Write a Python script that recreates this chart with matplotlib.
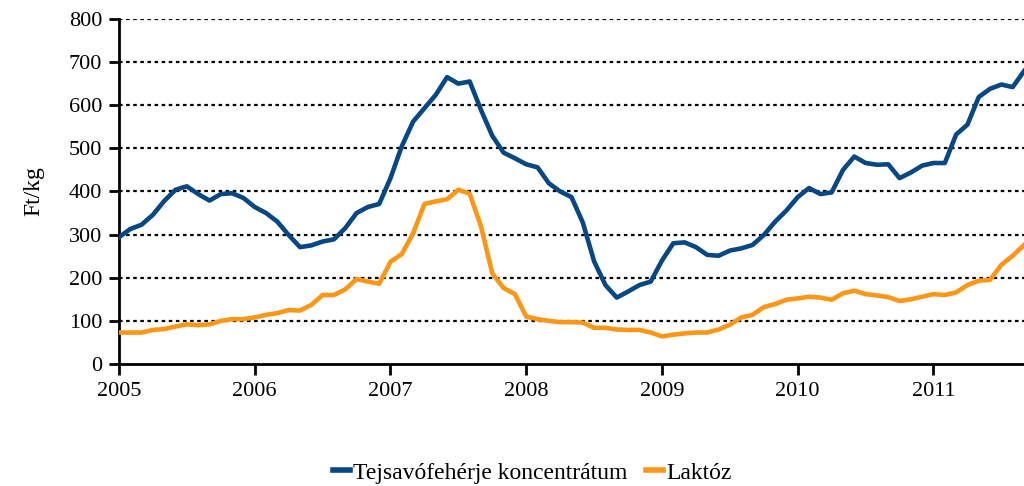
import numpy as np
import matplotlib
matplotlib.use("Agg")
from matplotlib import pyplot as plt

# monthly prices, Jan 2005 - Sep 2011 (Ft/kg)
start_year = 2005
tejsavo = [294, 313, 323, 346, 378, 404, 412, 394, 379, 394, 396, 385,
           364, 350, 330, 299, 271, 275, 284, 289, 315, 350, 364, 371,
           431, 505, 562, 593, 624, 665, 650, 655, 589, 529, 490, 477,
           463, 456, 419, 400, 387, 328, 238, 183, 154, 168, 183, 191,
           240, 280, 282, 271, 253, 251, 263, 268, 276, 299, 330, 356,
           387, 408, 394, 398, 450, 481, 466, 462, 463, 431, 444, 460,
           466, 466, 532, 555, 619, 638, 648, 642, 679]
laktoz = [73, 73, 73, 79, 81, 87, 92, 90, 92, 100, 104, 104,
          108, 114, 118, 125, 124, 137, 160, 160, 173, 197, 191, 186,
          237, 255, 303, 371, 377, 382, 404, 395, 319, 210, 176, 162,
          110, 104, 100, 97, 97, 96, 84, 84, 80, 79, 79, 73,
          64, 68, 71, 73, 73, 80, 91, 108, 114, 132, 139, 149,
          152, 156, 154, 149, 164, 170, 162, 159, 155, 146, 150, 156,
          162, 160, 166, 183, 193, 195, 230, 251, 276]
years = [2005, 2006, 2007, 2008, 2009, 2010, 2011]
series_names = ["Tejsavófehérje koncentrátum", "Laktóz"]

serif = ['Liberation Serif', 'DejaVu Serif']
plt.rcParams['font.family'] = serif

x = start_year + np.arange(len(tejsavo)) / 12.0

fig = plt.figure(figsize=(10.24, 4.86), dpi=100)
ax = fig.add_axes([0.1162, 0.251, 0.8838, 0.71])

ax.plot(x, tejsavo, color="#064784", lw=3.3, label=series_names[0], zorder=3)
ax.plot(x, laktoz, color="#fb9616", lw=3.3, label=series_names[1], zorder=3)

ax.set_ylim(0, 800)
ax.set_yticks(range(0, 801, 100))
ax.set_xlim(x[0], x[-1])
ax.set_xticks(years)
ax.set_xticklabels([str(y) for y in years])

for v in range(100, 801, 100):
    ax.axhline(v, color="black", lw=1.6, ls=(0, (1.6, 1.6)), zorder=1)

for s in ["top", "right"]:
    ax.spines[s].set_visible(False)
for s in ["left", "bottom"]:
    ax.spines[s].set_linewidth(2)
ax.tick_params(axis="both", direction="out", width=2, labelsize=16)
ax.tick_params(axis="y", length=7, pad=5)
ax.tick_params(axis="x", length=8, pad=5)
ax.set_ylabel("Ft/kg", fontsize=17, labelpad=18)

leg = fig.legend(loc="center", bbox_to_anchor=(0.52, 0.027), ncol=2, frameon=False,
                 prop={'family': serif, 'size': 17}, handlelength=0.7,
                 handletextpad=0.15, columnspacing=0.8)
for h in leg.get_lines():
    h.set_linewidth(4)

fig.savefig("out.png", dpi=100)
